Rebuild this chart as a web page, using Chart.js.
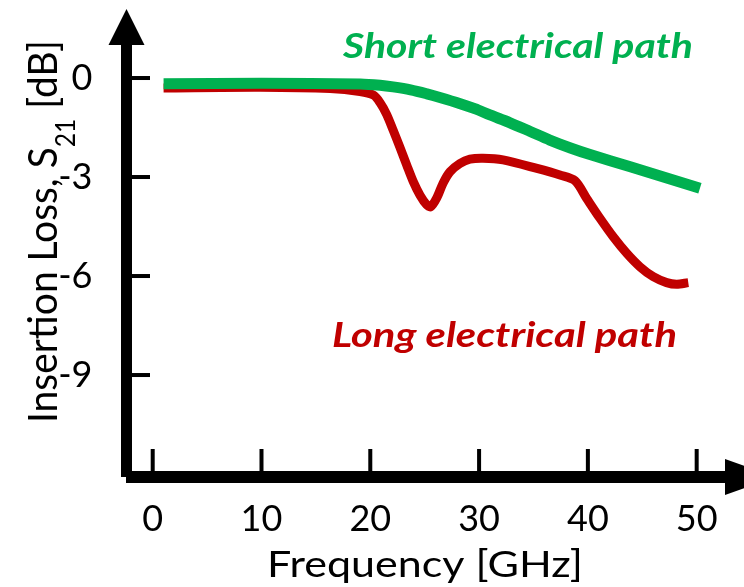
<!DOCTYPE html>
<html>
<head>
<meta charset="utf-8">
<script src="https://cdn.jsdelivr.net/npm/chart.js@4"></script>
<style>
html,body{margin:0;padding:0;background:#fff;}
#wrap{width:744px;height:587px;position:relative;}
canvas{display:block;}
</style>
</head>
<body>
<div id="wrap"><canvas id="c" width="744" height="587"></canvas></div>
<script>
// ---- data ----
const xTicks = [0, 10, 20, 30, 40, 50];
const yTicks = [0, -3, -6, -9];

const shortFreq = [1, 10, 19.1, 20.9, 22.1, 23.7, 25.2, 26.4, 28.2, 29.6, 31.0, 32.8, 34.7, 36.5, 38.4, 40.2, 43.9, 50.3];
const shortLoss = [-0.17, -0.16, -0.18, -0.22, -0.27, -0.36, -0.48, -0.59, -0.77, -0.93, -1.12, -1.35, -1.62, -1.88, -2.12, -2.32, -2.69, -3.34];

const longFreq = [1, 9.9, 16.3, 19.05, 20.3, 20.9, 21.5, 22.1, 22.7, 23.35, 23.95, 24.57, 25.18, 25.55, 26.1, 26.7, 27.33, 28.24, 29.16, 30.36, 32.2, 35.32, 37.43, 38.81, 39.89, 41.11, 42.33, 43.57, 44.79, 46.01, 47.24, 48.16, 49.23];
const longLoss = [-0.3, -0.28, -0.32, -0.41, -0.52, -0.75, -1.1, -1.58, -2.08, -2.64, -3.14, -3.55, -3.84, -3.9, -3.64, -3.18, -2.84, -2.59, -2.46, -2.43, -2.48, -2.74, -2.94, -3.11, -3.65, -4.25, -4.81, -5.31, -5.72, -6.02, -6.2, -6.25, -6.2];

const shortLabel = "Short electrical path";
const longLabel = "Long electrical path";
const xTitle = "Frequency [GHz]";
const yTitleMain = "Insertion Loss, S";
const yTitleSub = "21";
const yTitleEnd = " [dB]";

const GREEN = "#00B050";
const RED = "#C00000";
const FONT = "Lato, 'Open Sans', sans-serif";

function fitText(ctx, text, x, y, w, font, color) {
  ctx.save();
  ctx.font = font;
  ctx.fillStyle = color;
  ctx.textBaseline = "alphabetic";
  ctx.textAlign = "left";
  const m = ctx.measureText(text).width;
  const s = w / m;
  ctx.translate(x, y);
  ctx.scale(s, 1);
  ctx.fillText(text, 0, 0);
  ctx.restore();
}

const decor = {
  id: "decor",
  afterDraw(chart) {
    const ctx = chart.ctx;
    const xs = chart.scales.x, ys = chart.scales.y;
    ctx.save();
    ctx.fillStyle = "#000";
    // y axis line + arrow
    ctx.fillRect(121, 40, 11, 437);
    ctx.beginPath();
    ctx.moveTo(126.5, 9); ctx.lineTo(144.5, 45); ctx.lineTo(108.5, 45); ctx.closePath(); ctx.fill();
    // x axis line + arrow
    ctx.fillRect(126, 471, 604, 12);
    ctx.beginPath();
    ctx.moveTo(775, 477); ctx.lineTo(725, 495); ctx.lineTo(725, 459); ctx.closePath(); ctx.fill();
    // ticks
    yTicks.forEach(v => { const py = ys.getPixelForValue(v); ctx.fillRect(132, py - 2, 18, 4); });
    xTicks.forEach(v => { const px = xs.getPixelForValue(v); ctx.fillRect(px - 2, 449, 4, 22); });
    ctx.restore();

    // annotations
    fitText(ctx, shortLabel, 343, 58, 350, "italic bold 35px " + FONT, GREEN);
    fitText(ctx, longLabel, 332, 347, 345, "italic bold 35px " + FONT, RED);
    // x title
    fitText(ctx, xTitle, 267, 577, 316, "37px " + FONT, "#000");

    // y title (rotated, with subscript)
    ctx.save();
    const mainF = "41px " + FONT, subF = "26px " + FONT;
    ctx.font = mainF; const w1 = ctx.measureText(yTitleMain).width; const w3 = ctx.measureText(yTitleEnd).width;
    ctx.font = subF; const w2 = ctx.measureText(yTitleSub).width;
    const total = w1 + w2 + w3;
    const s = 383 / total;
    ctx.translate(57, 423);
    ctx.rotate(-Math.PI / 2);
    ctx.scale(s, 1);
    ctx.fillStyle = "#000";
    ctx.textBaseline = "alphabetic";
    ctx.textAlign = "left";
    ctx.font = mainF; ctx.fillText(yTitleMain, 0, 0);
    ctx.font = subF; ctx.fillText(yTitleSub, w1, 18);
    ctx.font = mainF; ctx.fillText(yTitleEnd, w1 + w2, 0);
    ctx.restore();
  }
};

function build() {
  const ctx = document.getElementById("c").getContext("2d");
  new Chart(ctx, {
    type: "line",
    data: {
      datasets: [
        {
          label: shortLabel,
          data: shortFreq.map((f, i) => ({ x: f, y: shortLoss[i] })),
          borderColor: GREEN, borderWidth: 11, pointRadius: 0,
          tension: 0.3, fill: false, borderCapStyle: "butt", borderJoinStyle: "round"
        },
        {
          label: longLabel,
          data: longFreq.map((f, i) => ({ x: f, y: longLoss[i] })),
          borderColor: RED, borderWidth: 9, pointRadius: 0,
          tension: 0.3, fill: false, borderCapStyle: "butt", borderJoinStyle: "round"
        }
      ]
    },
    options: {
      responsive: false,
      animation: false,
      devicePixelRatio: 1,
      layout: { padding: 0 },
      plugins: { legend: { display: false }, tooltip: { enabled: false }, title: { display: false } },
      scales: {
        x: {
          type: "linear", min: -2.5, max: 54.35,
          grid: { display: false }, border: { display: false },
          ticks: { color: "#000", font: { family: FONT, size: 36 }, padding: 13, maxRotation: 0, autoSkip: false },
          afterBuildTicks: s => { s.ticks = xTicks.map(v => ({ value: v })); },
          afterFit: s => { s.height = 110; s.paddingLeft = 0; s.paddingRight = 0; s.paddingTop = 0; s.paddingBottom = 0; }
        },
        y: {
          type: "linear", min: -12.09, max: 2.364,
          grid: { display: false }, border: { display: false },
          ticks: { color: "#000", font: { family: FONT, size: 36 }, padding: 25, autoSkip: false },
          afterBuildTicks: s => { s.ticks = yTicks.map(v => ({ value: v })); },
          afterFit: s => { s.width = 125.5; s.paddingLeft = 0; s.paddingRight = 0; s.paddingTop = 0; s.paddingBottom = 0; }
        }
      }
    },
    plugins: [decor]
  });
}

Promise.all([
  document.fonts.load("36px Lato"),
  document.fonts.load("italic bold 35px Lato")
]).catch(() => {}).then(build);
</script>
</body>
</html>
